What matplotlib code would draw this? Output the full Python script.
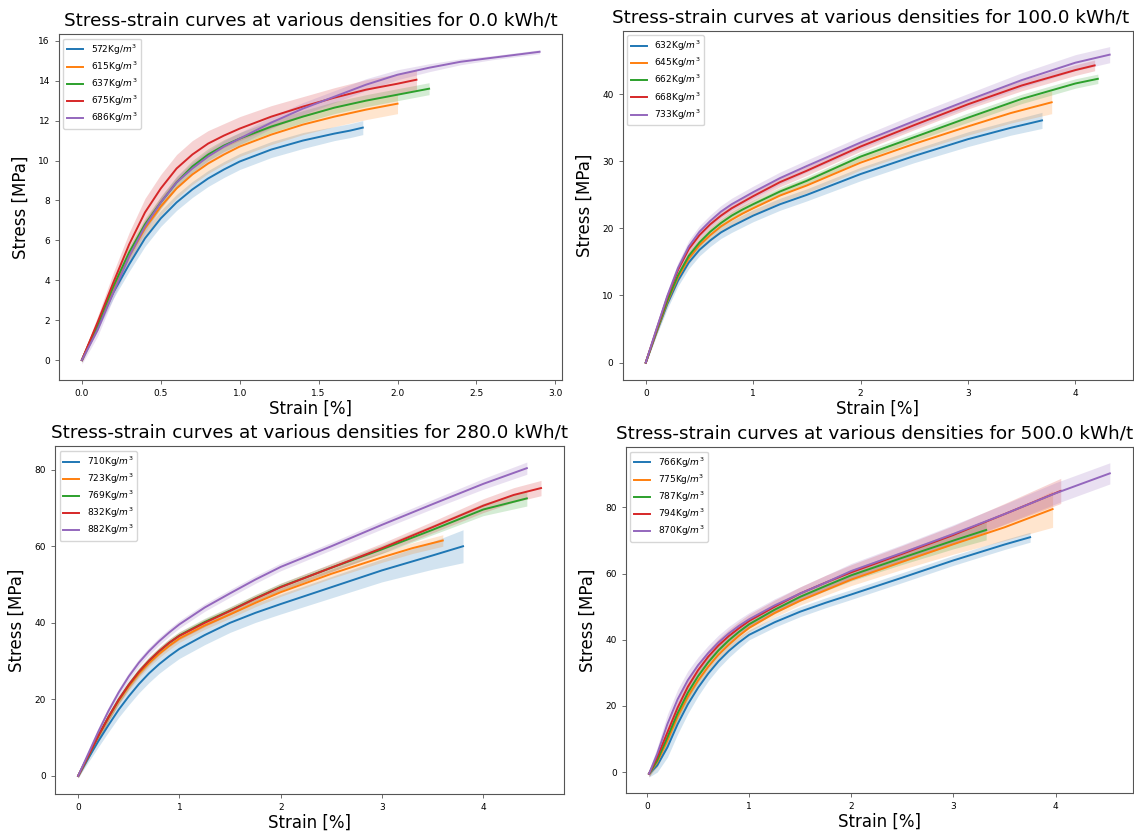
import matplotlib
matplotlib.use("Agg")
import matplotlib.pyplot as plt
import numpy as np

# ---- 0.0 kWh/t ----
dens_0 = [572, 615, 637, 675, 686]
strain_0 = [
    [0, 0.1, 0.2, 0.3, 0.4, 0.5, 0.6, 0.7, 0.8, 0.9, 1.0, 1.2, 1.4, 1.6, 1.7, 1.78],
    [0, 0.1, 0.2, 0.3, 0.4, 0.5, 0.6, 0.7, 0.8, 0.9, 1.0, 1.2, 1.4, 1.6, 1.8, 2.0],
    [0, 0.1, 0.2, 0.3, 0.4, 0.5, 0.6, 0.7, 0.8, 0.9, 1.0, 1.2, 1.4, 1.6, 1.8, 2.0, 2.2],
    [0, 0.1, 0.2, 0.3, 0.4, 0.5, 0.6, 0.7, 0.8, 0.9, 1.0, 1.2, 1.4, 1.6, 1.8, 2.0, 2.12],
    [0, 0.1, 0.2, 0.3, 0.4, 0.5, 0.6, 0.7, 0.8, 0.9, 1.0, 1.2, 1.4, 1.6, 1.8, 2.0, 2.2, 2.4, 2.6, 2.8, 2.9],
]
stress_0 = [
    [0, 1.7, 3.4, 4.8, 6.1, 7.1, 7.9, 8.55, 9.1, 9.55, 9.95, 10.55, 11.0, 11.35, 11.5, 11.65],
    [0, 1.8, 3.6, 5.2, 6.6, 7.7, 8.6, 9.3, 9.85, 10.3, 10.7, 11.3, 11.8, 12.2, 12.55, 12.85],
    [0, 1.8, 3.7, 5.4, 6.8, 7.9, 8.9, 9.7, 10.3, 10.75, 11.1, 11.7, 12.2, 12.65, 13.0, 13.3, 13.6],
    [0, 1.9, 3.9, 5.8, 7.4, 8.6, 9.6, 10.3, 10.85, 11.25, 11.6, 12.2, 12.7, 13.15, 13.55, 13.85, 14.05],
    [0, 1.5, 3.4, 5.2, 6.7, 7.9, 8.9, 9.6, 10.2, 10.7, 11.1, 11.9, 12.6, 13.2, 13.8, 14.3, 14.65, 14.95, 15.15, 15.35, 15.45],
]
spread_0 = [
    [0.1, 0.2, 0.3, 0.35, 0.4, 0.4, 0.4, 0.4, 0.4, 0.4, 0.4, 0.4, 0.4, 0.35, 0.35, 0.35],
    [0.1, 0.2, 0.3, 0.35, 0.4, 0.45, 0.5, 0.5, 0.5, 0.5, 0.5, 0.5, 0.5, 0.5, 0.5, 0.5],
    [0.1, 0.2, 0.3, 0.3, 0.3, 0.3, 0.3, 0.3, 0.3, 0.3, 0.3, 0.3, 0.3, 0.3, 0.3, 0.3, 0.3],
    [0.1, 0.3, 0.5, 0.6, 0.7, 0.7, 0.7, 0.7, 0.65, 0.6, 0.6, 0.55, 0.5, 0.5, 0.5, 0.5, 0.5],
    [0.2, 0.3, 0.3, 0.3, 0.3, 0.3, 0.3, 0.3, 0.3, 0.3, 0.3, 0.3, 0.3, 0.3, 0.3, 0.25, 0.2, 0.15, 0.1, 0.1, 0.1],
]

# ---- 100.0 kWh/t ----
dens_100 = [632, 645, 662, 668, 733]
strain_100 = [
    [0, 0.1, 0.2, 0.3, 0.4, 0.5, 0.6, 0.7, 0.8, 0.9, 1.0, 1.25, 1.5, 2.0, 2.5, 3.0, 3.4, 3.69],
    [0, 0.1, 0.2, 0.3, 0.4, 0.5, 0.6, 0.7, 0.8, 0.9, 1.0, 1.25, 1.5, 2.0, 2.5, 3.0, 3.4, 3.78],
    [0, 0.1, 0.2, 0.3, 0.4, 0.5, 0.6, 0.7, 0.8, 0.9, 1.0, 1.25, 1.5, 2.0, 2.5, 3.0, 3.5, 4.0, 4.21],
    [0, 0.1, 0.2, 0.3, 0.4, 0.5, 0.6, 0.7, 0.8, 0.9, 1.0, 1.25, 1.5, 2.0, 2.5, 3.0, 3.5, 4.0, 4.18],
    [0, 0.1, 0.2, 0.3, 0.4, 0.5, 0.6, 0.7, 0.8, 0.9, 1.0, 1.25, 1.5, 2.0, 2.5, 3.0, 3.5, 4.0, 4.32],
]
stress_100 = [
    [0, 4.5, 8.7, 12.2, 14.9, 16.8, 18.2, 19.4, 20.3, 21.1, 21.9, 23.6, 25.0, 28.1, 30.8, 33.3, 35.0, 36.1],
    [0, 4.6, 9.0, 12.7, 15.5, 17.5, 19.0, 20.3, 21.3, 22.2, 23.0, 24.9, 26.4, 29.8, 32.6, 35.2, 37.2, 38.8],
    [0, 4.7, 9.2, 13.0, 15.9, 17.9, 19.5, 20.8, 21.9, 22.8, 23.6, 25.5, 27.1, 30.7, 33.6, 36.5, 39.3, 41.6, 42.3],
    [0, 4.9, 9.7, 13.8, 16.9, 19.0, 20.6, 21.9, 23.0, 23.9, 24.8, 26.9, 28.6, 32.2, 35.4, 38.5, 41.3, 43.6, 44.3],
    [0, 5.0, 9.9, 14.1, 17.3, 19.5, 21.1, 22.5, 23.6, 24.5, 25.4, 27.5, 29.3, 32.8, 36.0, 39.1, 42.1, 44.7, 45.9],
]
spread_100 = [
    [0.2, 0.5, 0.7, 0.8, 0.9, 0.9, 0.9, 0.9, 0.9, 0.9, 0.9, 0.9, 0.9, 1.0, 1.0, 1.1, 1.1, 1.2],
    [0.2, 0.4, 0.6, 0.7, 0.8, 0.8, 0.9, 0.9, 1.0, 1.0, 1.0, 1.0, 1.1, 1.1, 1.2, 1.3, 1.5, 1.7],
    [0.2, 0.4, 0.5, 0.6, 0.6, 0.6, 0.6, 0.6, 0.6, 0.6, 0.6, 0.6, 0.6, 0.6, 0.6, 0.7, 0.7, 0.7, 0.7],
    [0.2, 0.4, 0.5, 0.6, 0.7, 0.7, 0.7, 0.7, 0.7, 0.7, 0.7, 0.7, 0.7, 0.7, 0.7, 0.7, 0.8, 0.8, 0.8],
    [0.2, 0.5, 0.7, 0.8, 0.9, 0.9, 0.9, 0.9, 0.9, 0.9, 0.9, 0.9, 0.9, 0.9, 1.0, 1.0, 1.1, 1.2, 1.2],
]

# ---- 280.0 kWh/t ----
dens_280 = [710, 723, 769, 832, 882]
strain_280 = [
    [0, 0.1, 0.2, 0.3, 0.4, 0.5, 0.6, 0.7, 0.8, 0.9, 1.0, 1.25, 1.5, 1.75, 2.0, 2.5, 3.0, 3.5, 3.8],
    [0, 0.1, 0.2, 0.3, 0.4, 0.5, 0.6, 0.7, 0.8, 0.9, 1.0, 1.25, 1.5, 1.75, 2.0, 2.5, 3.0, 3.3, 3.6],
    [0, 0.1, 0.2, 0.3, 0.4, 0.5, 0.6, 0.7, 0.8, 0.9, 1.0, 1.25, 1.5, 1.75, 2.0, 2.5, 3.0, 3.5, 4.0, 4.43],
    [0, 0.1, 0.2, 0.3, 0.4, 0.5, 0.6, 0.7, 0.8, 0.9, 1.0, 1.25, 1.5, 1.75, 2.0, 2.5, 3.0, 3.5, 4.0, 4.3, 4.57],
    [0, 0.1, 0.2, 0.3, 0.4, 0.5, 0.6, 0.7, 0.8, 0.9, 1.0, 1.25, 1.5, 1.75, 2.0, 2.5, 3.0, 3.5, 4.0, 4.43],
]
stress_280 = [
    [0, 4.6, 9.1, 13.3, 17.3, 20.8, 24.0, 26.8, 29.2, 31.3, 33.2, 36.8, 40.0, 42.6, 44.9, 49.3, 53.7, 57.6, 60.0],
    [0, 5.2, 10.4, 15.2, 19.6, 23.4, 26.7, 29.5, 31.9, 34.0, 35.9, 39.3, 42.2, 45.2, 48.0, 52.8, 57.1, 59.5, 61.5],
    [0, 5.2, 10.5, 15.4, 19.9, 23.8, 27.2, 30.1, 32.6, 34.8, 36.7, 40.2, 43.2, 46.4, 49.4, 54.4, 59.2, 64.3, 69.6, 72.5],
    [0, 5.2, 10.5, 15.4, 19.9, 23.8, 27.2, 30.1, 32.6, 34.8, 36.6, 40.0, 43.1, 46.3, 49.3, 54.4, 59.5, 65.0, 70.6, 73.4, 75.2],
    [0, 5.8, 11.6, 17.0, 21.8, 26.0, 29.6, 32.6, 35.2, 37.5, 39.6, 44.0, 47.7, 51.3, 54.6, 60.0, 65.6, 71.0, 76.3, 80.4],
]
spread_280 = [
    [0.5, 1.0, 1.5, 1.8, 2.0, 2.2, 2.3, 2.4, 2.4, 2.5, 2.5, 2.5, 2.5, 2.5, 2.6, 2.8, 3.0, 3.6, 4.3],
    [0.5, 0.8, 1.0, 1.0, 1.0, 1.0, 1.0, 1.0, 1.0, 1.0, 1.0, 1.0, 1.0, 1.0, 1.1, 1.2, 1.3, 1.4, 1.5],
    [0.5, 0.8, 1.0, 1.0, 1.0, 1.0, 1.0, 1.0, 1.0, 1.0, 1.0, 1.0, 1.0, 1.0, 1.0, 1.0, 1.1, 1.3, 1.6, 2.0],
    [0.5, 0.8, 1.0, 1.0, 1.0, 1.0, 1.0, 1.0, 1.0, 1.0, 1.0, 1.0, 1.0, 1.0, 1.0, 1.1, 1.3, 1.5, 1.8, 1.9, 2.0],
    [0.5, 0.8, 1.0, 1.0, 1.0, 1.0, 1.0, 1.0, 1.0, 1.0, 1.0, 1.0, 1.0, 1.0, 1.0, 1.0, 1.1, 1.2, 1.4, 1.6],
]

# ---- 500.0 kWh/t ----
dens_500 = [766, 775, 787, 794, 870]
strain_500 = [
    [0.02, 0.1, 0.2, 0.3, 0.4, 0.5, 0.6, 0.7, 0.8, 0.9, 1.0, 1.25, 1.5, 1.75, 2.0, 2.5, 3.0, 3.5, 3.75],
    [0.02, 0.1, 0.2, 0.3, 0.4, 0.5, 0.6, 0.7, 0.8, 0.9, 1.0, 1.25, 1.5, 1.75, 2.0, 2.5, 3.0, 3.5, 3.97],
    [0.02, 0.1, 0.2, 0.3, 0.4, 0.5, 0.6, 0.7, 0.8, 0.9, 1.0, 1.25, 1.5, 1.75, 2.0, 2.5, 3.0, 3.32],
    [0.02, 0.1, 0.2, 0.3, 0.4, 0.5, 0.6, 0.7, 0.8, 0.9, 1.0, 1.25, 1.5, 1.75, 2.0, 2.5, 3.0, 3.5, 4.05],
    [0.02, 0.1, 0.2, 0.3, 0.4, 0.5, 0.6, 0.7, 0.8, 0.9, 1.0, 1.25, 1.5, 1.75, 2.0, 2.5, 3.0, 3.5, 4.0, 4.53],
]
stress_500 = [
    [-0.5, 2.0, 7.5, 14.5, 20.5, 25.5, 29.8, 33.5, 36.6, 39.2, 41.5, 45.3, 48.5, 51.2, 53.7, 58.8, 64.0, 68.8, 71.0],
    [-0.5, 3.0, 9.5, 16.8, 22.8, 27.7, 31.9, 35.5, 38.5, 41.2, 43.6, 48.1, 51.8, 55.0, 58.2, 63.6, 68.9, 74.0, 79.5],
    [-0.5, 3.5, 10.5, 17.8, 24.0, 29.0, 33.2, 36.8, 39.8, 42.4, 44.7, 49.1, 53.0, 56.3, 59.5, 64.8, 70.0, 73.2],
    [-0.5, 4.5, 12.0, 19.5, 25.8, 30.8, 34.9, 38.3, 41.1, 43.5, 45.7, 50.0, 54.0, 57.3, 60.4, 66.0, 71.7, 78.0, 85.0],
    [-0.5, 5.5, 14.5, 22.0, 27.8, 32.3, 36.0, 39.2, 41.9, 44.2, 46.2, 50.4, 54.0, 57.3, 60.8, 66.3, 72.0, 78.0, 84.3, 90.3],
]
spread_500 = [
    [1.0, 2.0, 3.0, 3.0, 2.8, 2.5, 2.2, 2.1, 2.0, 1.8, 1.5, 1.5, 1.5, 1.5, 1.5, 1.5, 1.5, 1.5, 1.5],
    [0.8, 1.5, 2.0, 2.0, 2.0, 1.8, 1.5, 1.4, 1.3, 1.2, 1.2, 1.2, 1.3, 1.5, 1.8, 2.3, 3.0, 4.0, 5.5],
    [0.8, 1.5, 2.0, 2.0, 2.0, 1.8, 1.5, 1.4, 1.3, 1.2, 1.2, 1.2, 1.3, 1.5, 1.7, 2.0, 2.5, 3.0],
    [0.8, 1.5, 2.0, 2.2, 2.2, 2.0, 2.0, 2.0, 2.0, 2.0, 2.0, 2.0, 2.0, 2.2, 2.3, 2.5, 2.8, 3.2, 3.8],
    [1.0, 2.0, 3.0, 3.0, 2.8, 2.5, 2.3, 2.2, 2.1, 2.0, 2.0, 2.0, 2.0, 2.2, 2.3, 2.5, 2.8, 3.0, 3.2, 3.2],
]

energies = [0.0, 100.0, 280.0, 500.0]
colors = ["#1f77b4", "#ff7f0e", "#2ca02c", "#d62728", "#9467bd"]

# axes boxes in figure fractions (left, bottom, width, height)
boxes = [
    [0.052, 0.543, 0.444, 0.416],
    [0.549, 0.543, 0.450, 0.420],
    [0.0485, 0.045, 0.449, 0.418],
    [0.552, 0.046, 0.447, 0.416],
]
title_x = [0.5, 0.487, 0.5, 0.49]

panels = [
    (dens_0, strain_0, stress_0, spread_0),
    (dens_100, strain_100, stress_100, spread_100),
    (dens_280, strain_280, stress_280, spread_280),
    (dens_500, strain_500, stress_500, spread_500),
]

fig = plt.figure(figsize=(11.34, 8.31), dpi=100)

for k, (box, energy, (dens, strain, stress, spread)) in enumerate(zip(boxes, energies, panels)):
    ax = fig.add_axes(box)
    for i in range(len(dens)):
        x = np.array(strain[i])
        y = np.array(stress[i])
        s = np.array(spread[i])
        ax.fill_between(x, y - s, y + s, color=colors[i], alpha=0.2, linewidth=0)
        ax.plot(x, y, color=colors[i], lw=1.4, label=f"{dens[i]}Kg/$m^3$")
    ax.set_title(f"Stress-strain curves at various densities for {energy} kWh/t",
                 fontsize=13.2, x=title_x[k])
    ax.set_xlabel("Strain [%]", fontsize=12, labelpad=1.5)
    ax.set_ylabel("Stress [MPa]", fontsize=12, labelpad=6)
    ax.tick_params(labelsize=6.5, length=3, width=0.6, color="#555555")
    for sp in ax.spines.values():
        sp.set_color("#555555")
        sp.set_linewidth(0.8)
    ax.legend(loc="upper left", fontsize=6.5, handlelength=1.8, labelspacing=0.3)

fig.savefig("out.png", dpi=100)
